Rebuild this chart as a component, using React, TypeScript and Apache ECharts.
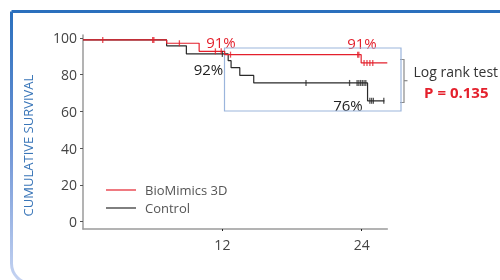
import React, { useEffect, useRef } from 'react';
import * as echarts from 'echarts';

// Kaplan–Meier step points [month, survival %]
const bioSteps: number[][] = [[0, 98.8], [7.2, 97.0], [10.0, 92.6], [12.2, 90.8], [23.95, 86.3], [26.2, 86.3]];
const ctrlSteps: number[][] = [[0, 98.8], [7.2, 95.6], [8.9, 91.2], [12.5, 87.5], [12.75, 83.7], [13.5, 79.5], [14.7, 75.4], [24.5, 65.7], [25.95, 65.7]];
// censored observations
const bioCensored: number[][] = [[1.7, 98.8], [6.0, 98.8], [6.1, 98.8], [8.3, 97.0], [11.4, 92.6], [11.9, 92.6], [12.7, 90.8], [23.65, 90.8], [23.75, 90.8], [24.2, 86.3], [24.45, 86.3], [24.7, 86.3], [24.95, 86.3]];
const ctrlCensored: number[][] = [[12.0, 91.2], [19.2, 75.4], [22.95, 75.4], [23.6, 75.4], [23.75, 75.4], [23.9, 75.4], [24.05, 75.4], [24.2, 75.4], [24.35, 75.4], [24.7, 65.7], [24.85, 65.7], [25.0, 65.7], [25.9, 65.7]];
const seriesNames = ['BioMimics 3D', 'Control'];
const xTicks = [12, 24];
const yTicks = [0, 20, 40, 60, 80, 100];

const RED = '#e4202c';
const BLACK = '#2a2a2a';
const FONT = 'Open Sans';

export default function App() {
  const ref = useRef<HTMLDivElement>(null);
  useEffect(() => {
    const chart = echarts.init(ref.current!, null, { renderer: 'svg' });
    chart.setOption({
      animation: false,
      grid: { left: 83, right: 112.7, top: 35, bottom: 51 },
      xAxis: {
        type: 'value', min: 0, max: 26.2,
        axisLine: { onZero: false, lineStyle: { color: '#9a9a9a', width: 1.5 } },
        axisTick: { customValues: xTicks, length: 2, lineStyle: { color: '#222' } },
        axisLabel: { customValues: xTicks, margin: 8, fontSize: 14, color: '#444', fontFamily: FONT },
        splitLine: { show: false },
      },
      yAxis: {
        type: 'value', min: -4.08, max: 101.5,
        axisLine: { show: true, lineStyle: { color: '#9a9a9a', width: 1.5 } },
        axisTick: { show: true, customValues: yTicks, length: 3, lineStyle: { color: '#555' } },
        axisLabel: { customValues: yTicks, margin: 6, fontSize: 14, color: '#444', fontFamily: FONT },
        splitLine: { show: false },
      },
      legend: {
        orient: 'vertical', left: 101, top: 177, itemGap: 2,
        data: seriesNames, icon: 'rect', itemWidth: 30, itemHeight: 1.2,
        textStyle: { fontSize: 13, color: '#555', fontFamily: FONT, lineHeight: 16, padding: [0, 0, 0, 4] },
      },
      series: [
        { name: seriesNames[1], type: 'line', step: 'end', data: ctrlSteps, showSymbol: false, symbol: 'none', lineStyle: { color: BLACK, width: 1.2 }, itemStyle: { color: BLACK }, z: 2 },
        { name: seriesNames[0], type: 'line', step: 'end', data: bioSteps, showSymbol: false, symbol: 'none', lineStyle: { color: RED, width: 1.2 }, itemStyle: { color: RED }, z: 3 },
        { name: 'ctrl-censor', type: 'scatter', data: ctrlCensored, symbol: 'rect', symbolSize: [1.3, 6], itemStyle: { color: BLACK }, z: 4 },
        { name: 'bio-censor', type: 'scatter', data: bioCensored, symbol: 'rect', symbolSize: [1.3, 6], itemStyle: { color: RED }, z: 5 },
      ],
      graphic: [
        {
          type: 'rect', silent: true,
          shape: { x: 11.5, y: 11.5, width: 520, height: 272, r: [0, 0, 0, 20] },
          style: {
            fill: 'none', lineWidth: 3,
            stroke: new echarts.graphic.LinearGradient(0, 0, 0, 1, [
              { offset: 0, color: '#2a6fbd' },
              { offset: 0.5, color: '#6f95d6' },
              { offset: 1, color: '#c6d4f2' },
            ]),
          },
        },
        {
          type: 'text', x: 28, y: 145.5, rotation: Math.PI / 2,
          style: { text: 'CUMULATIVE SURVIVAL', fill: '#3a76b8', fontSize: 13, fontFamily: FONT, align: 'center', verticalAlign: 'middle' },
        },
        { type: 'rect', shape: { x: 224.5, y: 48, width: 176.5, height: 63 }, style: { fill: 'none', stroke: '#9bb5dc', lineWidth: 1.2 }, z: 1 },
        { type: 'polyline', shape: { points: [[400, 59.5], [404, 59.5], [404, 102.5], [400, 102.5]] }, style: { fill: 'none', stroke: '#8a8a8a', lineWidth: 1.2 } },
        { type: 'line', shape: { x1: 404, y1: 80.7, x2: 407.5, y2: 80.7 }, style: { stroke: '#8a8a8a', lineWidth: 1.2 } },
        { type: 'text', x: 221, y: 42, style: { text: '91%', fill: RED, fontSize: 15, fontFamily: FONT, align: 'center', verticalAlign: 'middle' } },
        { type: 'text', x: 362, y: 43, style: { text: '91%', fill: RED, fontSize: 15, fontFamily: FONT, align: 'center', verticalAlign: 'middle' } },
        { type: 'text', x: 208.5, y: 69, style: { text: '92%', fill: '#222', fontSize: 15, fontFamily: FONT, align: 'center', verticalAlign: 'middle' } },
        { type: 'text', x: 348, y: 105, style: { text: '76%', fill: '#222', fontSize: 15, fontFamily: FONT, align: 'center', verticalAlign: 'middle' } },
        { type: 'text', x: 413.5, y: 71.5, style: { text: 'Log rank test', fill: '#333', fontSize: 14, fontFamily: FONT, align: 'left', verticalAlign: 'middle' } },
        { type: 'text', x: 456.3, y: 91.7, style: { text: 'P = 0.135', fill: RED, fontSize: 15, fontWeight: 'bold', fontFamily: FONT, align: 'center', verticalAlign: 'middle' } },
      ],
    });
    return () => chart.dispose();
  }, []);
  return <div ref={ref} style={{ position: 'fixed', left: 0, top: 0, width: 500, height: 280 }} />;
}
